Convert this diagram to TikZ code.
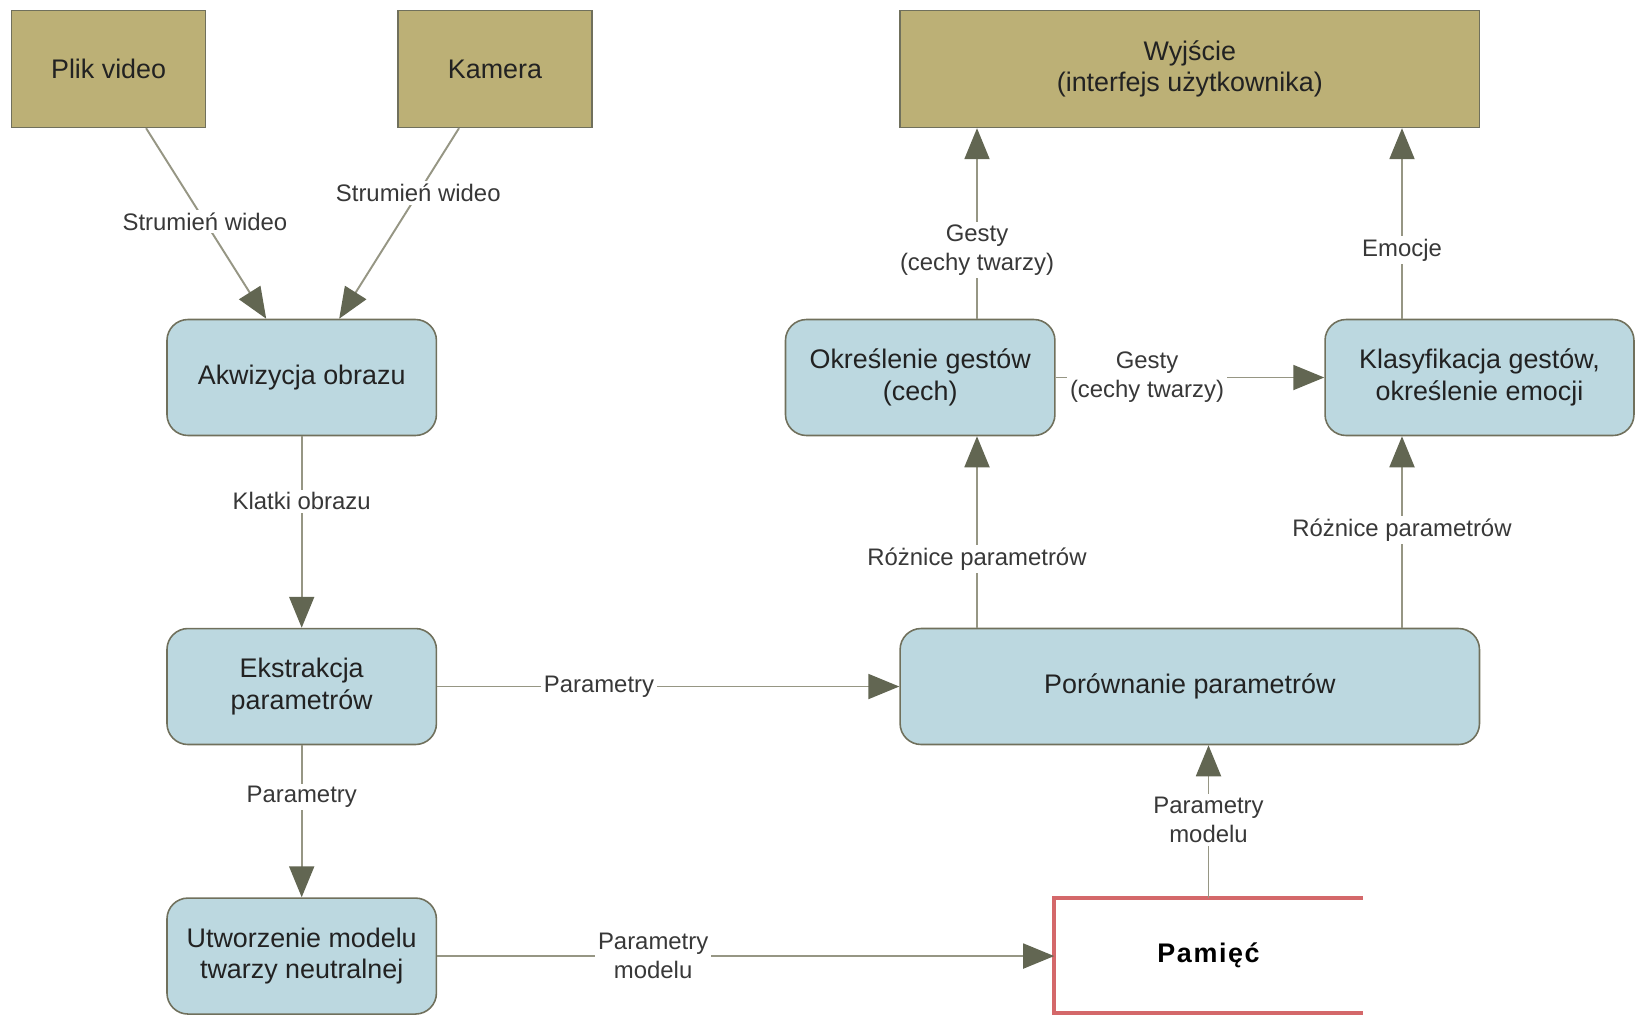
\documentclass[tikz,border=0pt]{standalone}
\usepackage{fontspec}
\setmainfont{Liberation Sans}
\usetikzlibrary{arrows.meta,positioning,calc}
\definecolor{sand}{RGB}{188,176,118}
\definecolor{ice}{RGB}{188,216,224}
\definecolor{rim}{RGB}{112,112,92}
\definecolor{wire}{RGB}{150,150,132}
\definecolor{tip}{RGB}{98,102,82}
\definecolor{memred}{RGB}{212,104,106}
\definecolor{ink}{RGB}{34,34,34}

\begin{document}
\begin{tikzpicture}[x=0.02cm,y=-0.02cm,
  >={Triangle[length=0.62cm,width=0.5cm,color=tip]},
  every node/.style={align=center,text=ink,font=\fontsize{15.3}{17.8}\selectfont},
  srcbox/.style={draw=rim,fill=sand,minimum width=3.88cm,minimum height=2.34cm,line width=0.9pt},
  procbox/.style={draw=rim,fill=ice,rounded corners=0.42cm,minimum width=5.39cm,minimum height=2.32cm,line width=0.9pt},
  flow/.style={->,wire,line width=1.1pt},
  lbl/.style={fill=white,text=ink!90,inner sep=1.5pt,font=\fontsize{13.6}{16.6}\selectfont}]
  \useasboundingbox (0,0) rectangle (1637,1015);
  % sources and output
  \node[srcbox] (plik) at (108.6,68.9) {Plik video};
  \node[srcbox] (kamera) at (495,68.9) {Kamera};
  \node[srcbox,minimum width=11.59cm] (wyj) at (1189.8,68.9) {Wyjście\\(interfejs użytkownika)};
  % processing
  \node[procbox] (akw) at (301.7,377.5) {Akwizycja obrazu};
  \node[procbox,below=3.83cm of akw] (ekstr) {Ekstrakcja\\parametrów};
  \node[procbox,below=3.04cm of ekstr] (utw) {Utworzenie modelu\\twarzy neutralnej};
  \node[procbox] (okr) at (920.2,377.5) {Określenie gestów\\(cech)};
  \node[procbox,minimum width=6.18cm] (klas) at (1479.5,377.5) {Klasyfikacja gestów,\\określenie emocji};
  \node[procbox,minimum width=11.59cm] (por) at (1189.8,686.5) {Porównanie parametrów};
  % store
  \node[minimum width=6.16cm,minimum height=2.29cm,text=black,font=\fontsize{15.3}{17.8}\selectfont\bfseries\addfontfeature{LetterSpace=6.0}] (pam) at (1208.5,955.4) {Pamięć};
  \draw[memred,line width=2.3pt] (pam.north east) -- (pam.north west) -- (pam.south west) -- (pam.south east);
  \coordinate (gcol) at (977,0);
  \coordinate (ecol) at (1402,0);
  % flows
  \draw[flow] ([xshift=0.75cm]plik.south) -- node[lbl,pos=0.49]{Strumień wideo} ([xshift=-0.71cm]akw.north);
  \draw[flow] ([xshift=-0.72cm]kamera.south) -- node[lbl,pos=0.34]{Strumień wideo} ([xshift=0.75cm]akw.north);
  \draw[flow] (akw) -- node[lbl,pos=0.34]{Klatki obrazu} (ekstr);
  \draw[flow] (ekstr) -- node[lbl,pos=0.34]{Parametry} (utw);
  \draw[flow] (ekstr.east) -- node[lbl,pos=0.35]{Parametry} (ekstr.east -| por.west);
  \draw[flow] (utw.east) -- node[lbl,pos=0.35]{Parametry\\modelu} (utw.east -| pam.west);
  \draw[flow] (pam.north) -- node[lbl,pos=0.51]{Parametry\\modelu} (por.south -| pam.north);
  \draw[flow] (por.north -| gcol) -- node[lbl,pos=0.36]{Różnice parametrów} (okr.south -| gcol);
  \draw[flow] (por.north -| ecol) -- node[lbl,pos=0.51]{Różnice parametrów} (klas.south -| ecol);
  \draw[flow] (okr.north -| gcol) -- node[lbl,pos=0.36]{Gesty\\(cechy twarzy)} (wyj.south -| gcol);
  \draw[flow] (klas.north -| ecol) -- node[lbl,pos=0.36]{Emocje} (wyj.south -| ecol);
  \draw[flow] (okr) -- node[lbl,pos=0.34]{Gesty\\(cechy twarzy)} (klas);
\end{tikzpicture}
\end{document}
